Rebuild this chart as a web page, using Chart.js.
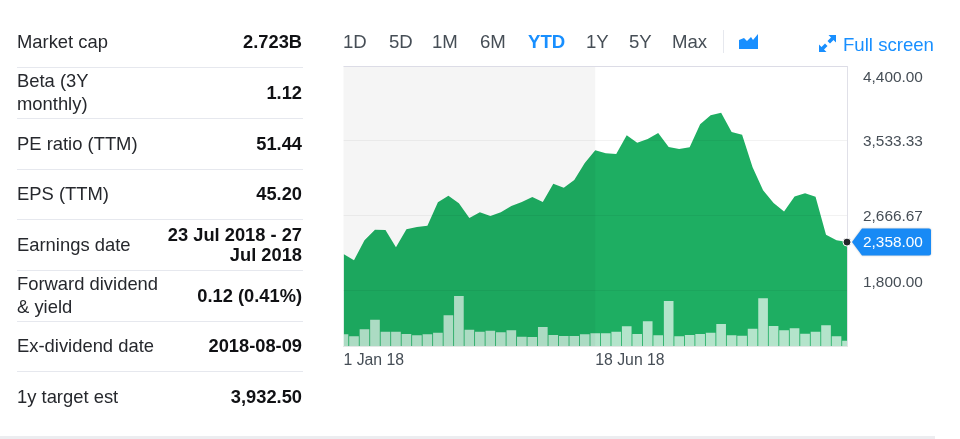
<!DOCTYPE html>
<html lang="en">
<head>
    <meta charset="UTF-8">
    <title>Market summary</title>
    <script src="https://cdn.jsdelivr.net/npm/chart.js@4"></script>
    <style>
        html, body { margin: 0; padding: 0; background: #fff; }
        body { width: 960px; height: 439px; position: relative; overflow: hidden; font-family: "Liberation Sans", Arial, sans-serif; }
        canvas { position: absolute; left: 0; top: 0; }
        .row { position: absolute; left: 17px; width: 286px; height: 50px; border-bottom: 1px solid #e6e8ee; display: flex; align-items: center; justify-content: space-between; box-sizing: content-box; }
        .row.last { border-bottom: 0; }
        .row .name { font-size: 18.4px; line-height: 23px; color: #26282d; white-space: pre-line; position: relative; top: -1px; }
        .row .val { font-size: 18.3px; line-height: 20px; font-weight: bold; color: #101114; text-align: right; white-space: pre-line; padding-right: 1px; }
        .range { position: absolute; top: 31px; font-size: 18.6px; line-height: 21px; color: #464e56; }
        .range.on { color: #188fff; font-weight: bold; }
        .sep { position: absolute; left: 723px; top: 30px; width: 1px; height: 23px; background: #e6e8ee; }
        .full { position: absolute; left: 843px; top: 34px; font-size: 18.6px; line-height: 21px; color: #188fff; }
        svg { position: absolute; }
        .strip { position: absolute; left: 0; top: 436px; width: 935px; height: 3px; background: #ecedf0; }
    </style>
</head>
<body>
    <canvas id="priceChart" width="960" height="439"></canvas>
    <div id="stats"></div>
    <div id="ranges"></div>
    <div class="sep"></div>
    <svg style="left:739px;top:33px" width="20" height="16" viewBox="0 0 20 16"><path d="M0 7l5-2 3 3 4-4 2 3 5-6v15H0z" fill="#188fff"/></svg>
    <svg style="left:818px;top:34px" width="19" height="19" viewBox="0 0 19 19"><path d="M10.500 1H18v7.500l-2.500-2.500-3.500 3.500-2.500-2.500 3.500-3.500zM8.500 18H1v-7.500l2.500 2.500 3.500-3.500 2.500 2.500-3.500 3.500z" fill="#188fff"/></svg>
    <div class="full">Full screen</div>
    <div class="strip"></div>

    <script>
        // left hand table
        const statNames = ['Market cap', 'Beta (3Y\nmonthly)', 'PE ratio (TTM)', 'EPS (TTM)', 'Earnings date', 'Forward dividend\n& yield', 'Ex-dividend date', '1y target est'];
        const statValues = ['2.723B', '1.12', '51.44', '45.20', '23 Jul 2018 - 27\nJul 2018', '0.12 (0.41%)', '2018-08-09', '3,932.50'];
        const rangeNames = ['1D', '5D', '1M', '6M', 'YTD', '1Y', '5Y', 'Max'];
        const rangeActive = 'YTD';

        // weekly data
        const weeks = ['1 Jan 18', '8 Jan 18', '15 Jan 18', '22 Jan 18', '29 Jan 18', '5 Feb 18', '12 Feb 18', '19 Feb 18', '26 Feb 18', '5 Mar 18',
            '12 Mar 18', '19 Mar 18', '26 Mar 18', '2 Apr 18', '9 Apr 18', '16 Apr 18', '23 Apr 18', '30 Apr 18', '7 May 18', '14 May 18',
            '21 May 18', '28 May 18', '4 Jun 18', '11 Jun 18', '18 Jun 18', '25 Jun 18', '2 Jul 18', '9 Jul 18', '16 Jul 18', '23 Jul 18',
            '30 Jul 18', '6 Aug 18', '13 Aug 18', '20 Aug 18', '27 Aug 18', '3 Sep 18', '10 Sep 18', '17 Sep 18', '24 Sep 18', '1 Oct 18',
            '8 Oct 18', '15 Oct 18', '22 Oct 18', '29 Oct 18', '5 Nov 18', '12 Nov 18', '19 Nov 18', '26 Nov 18', '3 Dec 18'];
        const prices = [2219, 2146, 2378, 2502, 2498, 2297, 2506, 2533, 2548, 2819,
            2896, 2807, 2637, 2703, 2660, 2703, 2776, 2823, 2881, 2823,
            3035, 2989, 3078, 3275, 3422, 3387, 3379, 3596, 3511, 3554,
            3623, 3461, 3437, 3457, 3724, 3828, 3859, 3635, 3604, 3225,
            2958, 2811, 2714, 2888, 2923, 2885, 2444, 2378, 2358];
        const volumes = [340, 280, 490, 780, 420, 420, 350, 310, 340, 390,
            910, 1490, 480, 420, 450, 400, 460, 270, 260, 560,
            320, 290, 290, 340, 370, 370, 420, 580, 350, 730,
            310, 1340, 280, 320, 350, 390, 650, 310, 300, 510,
            1420, 590, 460, 520, 360, 420, 610, 280, 150];
        const priceTicks = [1800, 2666.67, 3533.33, 4400];
        const xLabelWeeks = ['1 Jan 18', '18 Jun 18'];

        const rangeLefts = [343, 389, 432, 480, 528, 586, 629, 672];
        const rowTops = [17, 68, 119, 169, 220, 271, 321, 372];

        const lastIndex = prices.length - 1;

        function money(v) {
            return v.toLocaleString('en-US', { minimumFractionDigits: 2, maximumFractionDigits: 2 });
        }

        const stats = document.getElementById('stats');
        statNames.forEach((name, i) => {
            const row = document.createElement('div');
            row.className = 'row' + (i === statNames.length - 1 ? ' last' : '');
            row.style.top = rowTops[i] + 'px';
            const a = document.createElement('div');
            a.className = 'name';
            a.textContent = name;
            const b = document.createElement('div');
            b.className = 'val';
            b.textContent = statValues[i];
            row.append(a, b);
            stats.append(row);
        });

        const ranges = document.getElementById('ranges');
        rangeNames.forEach((name, i) => {
            const el = document.createElement('div');
            el.className = 'range' + (name === rangeActive ? ' on' : '');
            el.style.left = rangeLefts[i] + 'px';
            el.textContent = name;
            ranges.append(el);
        });

        // right edge of the plot goes under the dot, grey band goes over the area
        const bandPlugin = {
            id: 'band',
            beforeDatasetsDraw(chart) {
                const { ctx, chartArea } = chart;
                ctx.save();
                ctx.fillStyle = '#e0e0e8';
                ctx.fillRect(chartArea.right, chartArea.top, 1, chartArea.bottom - chartArea.top);
                ctx.restore();
            },
            afterDatasetsDraw(chart) {
                const { ctx, chartArea, scales } = chart;
                const right = scales.x.getPixelForValue(weeks.indexOf('18 Jun 18'));
                ctx.save();
                ctx.fillStyle = 'rgba(0,0,0,0.04)';
                ctx.fillRect(chartArea.left, chartArea.top, right - chartArea.left, chartArea.bottom - chartArea.top);
                ctx.restore();
            }
        };

        // the outer price labels sit inside the plot, so nudge them off their gridlines
        const nudgePlugin = {
            id: 'nudge',
            beforeDraw(chart) {
                chart.scales.y.getLabelItems(chart.chartArea).forEach(item => {
                    if (item.nudged) return;
                    item.nudged = true;
                    item.options.translation[1] += 1;
                    if (item.label === money(4400)) item.options.translation[1] += 11;
                    if (item.label === money(1800)) item.options.translation[1] -= 8;
                });
            }
        };

        // blue tag with the last price
        const tagPlugin = {
            id: 'tag',
            afterDraw(chart) {
                const { ctx, scales } = chart;
                const last = prices[lastIndex];
                const y = scales.y.getPixelForValue(last);
                const tip = 852, left = 862, right = 931, half = 13.5, r = 2;
                ctx.save();
                ctx.shadowColor = 'rgba(0,0,0,0.25)';
                ctx.shadowBlur = 2;
                ctx.fillStyle = '#188af5';
                ctx.beginPath();
                ctx.moveTo(tip, y);
                ctx.lineTo(left, y - half);
                ctx.lineTo(right - r, y - half);
                ctx.quadraticCurveTo(right, y - half, right, y - half + r);
                ctx.lineTo(right, y + half - r);
                ctx.quadraticCurveTo(right, y + half, right - r, y + half);
                ctx.lineTo(left, y + half);
                ctx.closePath();
                ctx.fill();
                ctx.shadowColor = 'transparent';
                ctx.fillStyle = '#fff';
                ctx.font = '15.4px "Liberation Sans"';
                ctx.textBaseline = 'middle';
                ctx.fillText(money(last), 863, y + 1);
                ctx.restore();
            }
        };

        new Chart(document.getElementById('priceChart'), {
            type: 'bar',
            data: {
                labels: weeks,
                datasets: [
                    {
                        type: 'line',
                        label: 'Last price',
                        data: prices.map((p, i) => i === lastIndex ? p : null),
                        yAxisID: 'y',
                        showLine: false,
                        clip: false,
                        pointRadius: 4,
                        pointBackgroundColor: '#24262b',
                        pointBorderColor: '#fff',
                        pointBorderWidth: 1,
                        order: 0
                    },
                    {
                        type: 'bar',
                        label: 'Volume',
                        data: volumes,
                        yAxisID: 'vol',
                        backgroundColor: 'rgba(255,255,255,0.67)',
                        barThickness: 9,
                        order: 1
                    },
                    {
                        type: 'line',
                        label: 'Price',
                        data: prices,
                        yAxisID: 'y',
                        borderWidth: 0,
                        borderColor: '#1eae62',
                        backgroundColor: '#1eae62',
                        fill: 'start',
                        tension: 0,
                        pointRadius: 0,
                        order: 2
                    }
                ]
            },
            options: {
                responsive: false,
                animation: false,
                events: [],
                layout: { padding: { left: 343.5, top: 66, right: 13, bottom: 63 } },
                plugins: { legend: { display: false }, tooltip: { enabled: false } },
                scales: {
                    x: {
                        offset: false,
                        grid: { display: false, drawTicks: false },
                        border: { color: '#e3e7e5', z: 1 },
                        afterFit: s => { s.height = 30; },
                        ticks: {
                            autoSkip: false,
                            maxRotation: 0,
                            align: 'start',
                            padding: 5,
                            color: '#464e56',
                            font: { size: 15.8, family: '"Liberation Sans"' },
                            callback(value) {
                                const name = this.getLabelForValue(value);
                                return xLabelWeeks.includes(name) ? name : '';
                            }
                        }
                    },
                    y: {
                        position: 'right',
                        min: 1153,
                        max: 4400,
                        afterBuildTicks: s => { s.ticks = priceTicks.map(value => ({ value })); },
                        afterFit: s => { s.width = 100; },
                        border: { display: false },
                        grid: {
                            z: 1,
                            drawTicks: false,
                            color: c => c.tick && c.tick.value === 4400 ? '#dcdce6' : 'rgba(0,0,0,0.05)'
                        },
                        ticks: {
                            autoSkip: false,
                            padding: 16,
                            color: '#464e56',
                            font: { size: 15.4, family: '"Liberation Sans"' },
                            callback: v => money(v)
                        }
                    },
                    vol: { display: false, min: 0, max: 8394 }
                }
            },
            plugins: [nudgePlugin, bandPlugin, tagPlugin]
        });
    </script>
</body>
</html>
